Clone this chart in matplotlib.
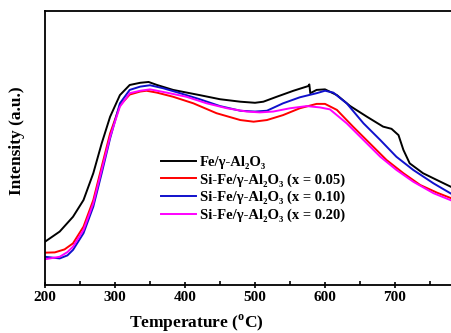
import matplotlib
matplotlib.use("Agg")
from matplotlib import pyplot as plt

# temperature (C) and intensity (% of axis height)
t_fe = [200, 221, 240, 255, 269, 281, 293, 307, 321, 336, 348, 360, 383, 421, 450, 479,
        500, 512, 531, 555, 576, 577.6, 579, 588, 600, 617, 636, 660, 683, 695, 705, 712,
        721, 740, 760, 781, 800]
i_fe = [15.8, 19.5, 24.9, 31.0, 40.8, 51.7, 61.4, 69.3, 73.0, 73.8, 74.1, 73, 71.2, 69.3,
        67.8, 66.9, 66.5, 66.9, 68.7, 70.9, 72.6, 73.2, 70, 71.2, 71.4, 69.3, 65.3, 61.4,
        57.8, 57.0, 54.7, 49.3, 44.4, 40.8, 38.3, 35.7, 33.8]

t_05 = [200, 214, 228, 240, 255, 269, 281, 293, 307, 321, 336, 345, 360, 383, 412, 445,
        479, 498, 517, 540, 564, 588, 600, 617, 640, 664, 688, 712, 736, 760, 781, 800]
i_05 = [11.8, 11.9, 13.0, 15.2, 21.3, 31.0, 43.2, 55.3, 65.5, 69.5, 70.6, 70.9, 70.2,
        68.7, 66.3, 62.7, 60.2, 59.6, 60.2, 62, 64.5, 66.1, 66.1, 63.9, 57.8, 51.7, 45.6,
        40.8, 36.5, 33.7, 31.6, 29.6]

t_10 = [200, 221, 232, 240, 255, 269, 281, 293, 307, 321, 336, 350, 369, 393, 421, 450,
        479, 500, 517, 540, 564, 588, 600, 612, 631, 655, 679, 702, 726, 755, 781, 800]
i_10 = [10.3, 9.7, 10.8, 12.8, 18.9, 28.6, 40.8, 53.5, 66.3, 71.2, 72.4, 72.9, 71.8, 70,
        67.8, 65.3, 63.6, 63.3, 63.6, 66.3, 68.5, 70, 70.9, 70.2, 66.3, 59, 52.9, 46.8, 42,
        37.1, 33.2, 31.2]

t_20 = [200, 221, 232, 240, 255, 269, 281, 293, 307, 321, 336, 350, 374, 402, 431, 460,
        488, 507, 526, 550, 574, 593, 607, 631, 655, 679, 702, 726, 755, 781, 800]
i_20 = [9.4, 10.3, 12.0, 14.0, 20.1, 29.8, 42.0, 54.1, 65.1, 70.0, 70.9, 71.4, 70.2, 68.7,
        66.3, 64.5, 63.3, 63, 63.3, 64.5, 65.3, 64.8, 64.1, 59, 52.9, 46.8, 42, 37.7, 33.5,
        30.8, 28.8]

labels = ["Fe/\u03b3-Al\u2082O\u2083",
          "Si-Fe/\u03b3-Al\u2082O\u2083 (x = 0.05)",
          "Si-Fe/\u03b3-Al\u2082O\u2083 (x = 0.10)",
          "Si-Fe/\u03b3-Al\u2082O\u2083 (x = 0.20)"]

plt.rcParams['font.family'] = ['Liberation Serif', 'DejaVu Serif']
plt.rcParams['font.weight'] = 'bold'
plt.rcParams['mathtext.fontset'] = 'custom'
plt.rcParams['mathtext.bf'] = 'Liberation Serif:bold'
plt.rcParams['mathtext.rm'] = 'Liberation Serif:bold'

fig = plt.figure(figsize=(4.52, 3.33), dpi=100)
ax = fig.add_axes([45 / 452, 48 / 333, 420 / 452, 274 / 333])

ax.plot(t_fe, i_fe, color='black', lw=1.4, label=labels[0])
ax.plot(t_05, i_05, color='#ff0000', lw=1.4, label=labels[1])
ax.plot(t_10, i_10, color='#1010cc', lw=1.4, label=labels[2])
ax.plot(t_20, i_20, color='#ff00ff', lw=1.4, label=labels[3])

ax.set_xlim(200, 800)
ax.set_ylim(0, 100)
ax.set_yticks([])
ax.set_xticks([200, 300, 400, 500, 600, 700])
ax.set_xticks([250, 350, 450, 550, 650, 750], minor=True)
ax.tick_params(axis='x', which='major', direction='inout', length=5, width=1.2,
               labelsize=11, pad=2)
ax.tick_params(axis='x', which='minor', direction='in', length=3, width=1.2)
for s in ax.spines.values():
    s.set_linewidth(1.3)

ax.set_xlabel('Temperature ($^{\\mathbf{o}}$C)', fontsize=12.5, fontweight='bold')
ax.xaxis.set_label_coords(0.36, -0.102, transform=ax.transAxes)
ax.xaxis.label.set_va('top')
ax.set_ylabel('Intensity (a.u.)', fontsize=12.5, fontweight='bold')
ax.yaxis.set_label_coords(-0.047, 0.525)

ax.legend(loc='upper left', bbox_to_anchor=(0.251, 0.51), frameon=False,
          fontsize=10.5, handlelength=2.4, handletextpad=0.3, labelspacing=0.3,
          borderpad=0.2)

fig.savefig('out.png', dpi=100)
